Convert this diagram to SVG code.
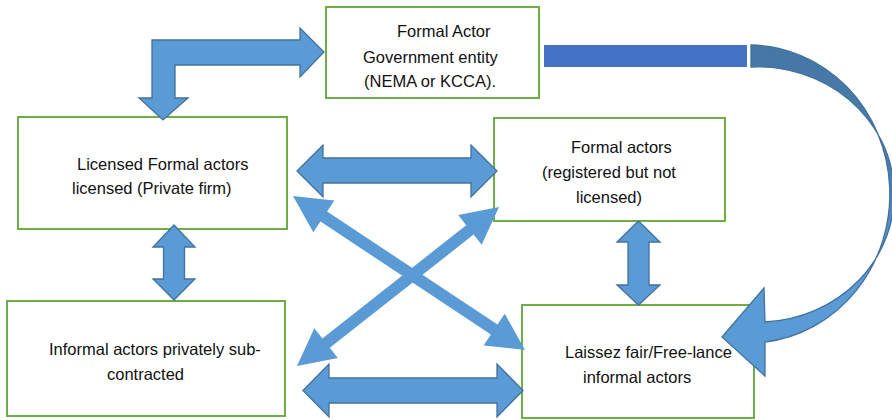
<svg xmlns="http://www.w3.org/2000/svg" width="892" height="420" viewBox="0 0 892 420">
<style>
.box{fill:#ffffff;stroke:#70AD47;stroke-width:2}
.t{font-family:"Liberation Sans",Arial,sans-serif;font-size:16.5px;fill:#111111}
.dbl{fill:#5B9BD5;stroke:#41719C;stroke-width:1.3;stroke-linejoin:miter}
.thin{fill:#5B9BD5;stroke:none}
</style>
<defs>
<linearGradient id="curveGrad" gradientUnits="userSpaceOnUse" x1="0" y1="45" x2="0" y2="376">
<stop offset="0" stop-color="#4577A5"/>
<stop offset="0.45" stop-color="#4A80B2"/>
<stop offset="0.62" stop-color="#5B9BD5"/>
<stop offset="1" stop-color="#5B9BD5"/>
</linearGradient>
</defs>
<rect width="892" height="420" fill="#ffffff"/>
<g id="node-government">
<rect class="box" x="326" y="7" width="213" height="91"/>
<text class="t" x="397" y="37">Formal Actor</text>
<text class="t" x="363" y="63">Government entity</text>
<text class="t" x="364" y="87">(NEMA or KCCA).</text>
</g>
<g id="node-licensed">
<rect class="box" x="18" y="117" width="269" height="112"/>
<text class="t" x="77" y="170">Licensed Formal actors</text>
<text class="t" x="72" y="194">licensed (Private firm)</text>
</g>
<g id="node-registered">
<rect class="box" x="494" y="118" width="231" height="103"/>
<text class="t" x="571" y="153">Formal actors</text>
<text class="t" x="542" y="178">(registered but not</text>
<text class="t" x="576" y="203">licensed)</text>
</g>
<g id="node-informal">
<rect class="box" x="7" y="301" width="278" height="115"/>
<text class="t" x="49" y="355">Informal actors privately sub-</text>
<text class="t" x="107" y="380">contracted</text>
</g>
<g id="node-laissez">
<rect class="box" x="522" y="305" width="232" height="113"/>
<text class="t" x="565" y="358">Laissez fair/Free-lance</text>
<text class="t" x="583" y="383">informal actors</text>
</g>
<g id="connectors">
<path class="dbl" d="M152,40 L300,40 L300,28 L324,52 L300,77 L300,65 L175,65 L175,98 L188,98 L163,120 L139,98 L152,98 Z"/>
<rect x="544" y="45" width="203" height="22" fill="#4472C4"/>
<path d="M751,45 A141,149 0 0 1 765,342 L765,376 L722,337 L764,288 L765,322 A136,127.5 0 0 0 751,67 Z" fill="url(#curveGrad)" stroke="#41719C" stroke-width="1.3"/>
<path class="dbl" d="M297,171 L323,145 L323,158 L471,158 L471,145 L497,171 L471,197 L471,183 L323,183 L323,197 Z"/>
<path class="dbl" d="M303,390.5 L329,364 L329,378 L497,378 L497,364 L523,390.5 L497,417 L497,403 L329,403 L329,417 Z"/>
<path class="dbl" d="M174,225 L195,247 L184.5,247 L184.5,279 L195,279 L174,300 L153,279 L163.5,279 L163.5,247 L153,247 Z"/>
<path class="dbl" d="M638.5,221 L660,242 L649,242 L649,285 L660,285 L638.5,305 L617,285 L628,285 L628,242 L617,242 Z"/>
<path class="thin" d="M293,196 L334.3,200.6 L327.1,211.5 L497.5,324.5 L504.7,313.7 L525,350 L483.7,345.4 L490.9,334.5 L320.5,221.5 L313.3,232.3 Z"/>
<path class="thin" d="M499,207 L481.7,244.8 L473.6,234.6 L329.8,347.8 L337.8,358 L297,366 L314.3,328.2 L322.4,338.4 L466.2,225.2 L458.2,215 Z"/>
</g>
</svg>
